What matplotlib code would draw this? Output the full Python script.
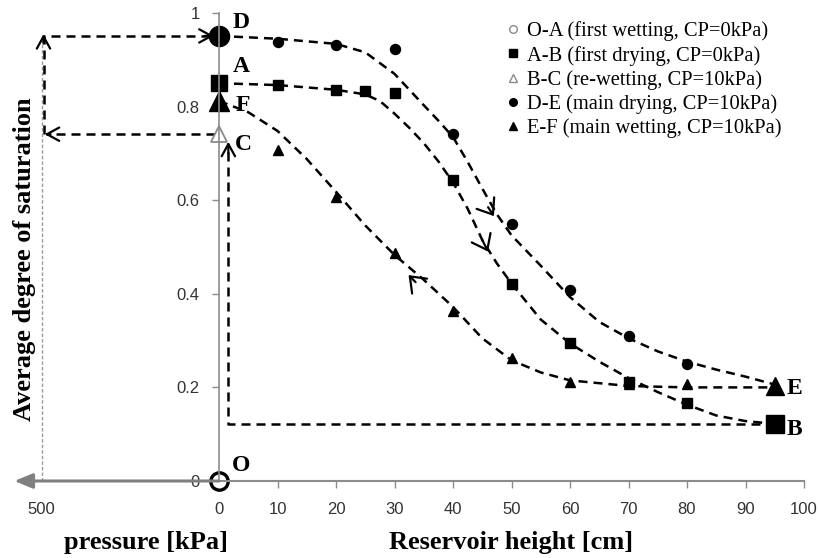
import matplotlib
matplotlib.use('Agg')
import matplotlib.pyplot as plt
from matplotlib.lines import Line2D

# measured points: reservoir height [cm] vs average degree of saturation
oa_x = [0]
oa_y = [0.0]
ab_x = [0, 10, 20, 25, 30, 40, 50, 60, 70, 80, 95]
ab_y = [0.85, 0.847, 0.836, 0.833, 0.829, 0.643, 0.421, 0.295, 0.211, 0.167, 0.122]
bc_x = [0]
bc_y = [0.741]
de_x = [0, 10, 20, 30, 40, 50, 60, 70, 80]
de_y = [0.951, 0.938, 0.932, 0.923, 0.741, 0.55, 0.409, 0.309, 0.251]
ef_x = [0, 10, 20, 30, 40, 50, 60, 70, 80, 95]
ef_y = [0.812, 0.707, 0.607, 0.487, 0.363, 0.262, 0.212, 0.208, 0.207, 0.203]

# dashed trend curves
ab_cx = [0, 10, 20, 25, 27.5, 30, 32.5, 35, 37.5, 40, 42.5, 45, 47.5, 50, 55, 60, 65, 70, 75, 80, 85, 90, 95]
ab_cy = [0.85, 0.846, 0.836, 0.826, 0.812, 0.785, 0.755, 0.722, 0.683, 0.638, 0.582, 0.515, 0.465, 0.422, 0.345, 0.294, 0.255, 0.22, 0.19, 0.163, 0.14, 0.128, 0.122]
de_cx = [0, 10, 20, 25, 30, 35, 37.5, 40, 42.5, 45, 47.5, 50, 55, 60, 65, 70, 75, 80, 85, 90, 95]
de_cy = [0.951, 0.945, 0.934, 0.916, 0.87, 0.803, 0.77, 0.735, 0.682, 0.625, 0.57, 0.525, 0.46, 0.393, 0.34, 0.305, 0.277, 0.255, 0.238, 0.223, 0.206]
ef_cx = [0, 5, 10, 15, 20, 25, 30, 35, 40, 45, 50, 55, 60, 70, 80, 95]
ef_cy = [0.812, 0.788, 0.748, 0.688, 0.618, 0.546, 0.483, 0.43, 0.372, 0.305, 0.258, 0.232, 0.215, 0.203, 0.2, 0.2]

legend_labels = ['O-A (first wetting, CP=0kPa)', 'A-B (first drying, CP=0kPa)',
                 'B-C (re-wetting, CP=10kPa)', 'D-E (main drying, CP=10kPa)',
                 'E-F (main wetting, CP=10kPa)']

pressure_kpa = 500
cm_per_kpa = 30.3 / 500.0
px = -pressure_kpa * cm_per_kpa

serif = 'Liberation Serif'
grey = '#8c8c8c'
dash = (3.6, 2.4)

fig = plt.figure(figsize=(8.19, 5.58), dpi=100)
ax = fig.add_axes([8.4 / 819, 77 / 558, (804 - 8.4) / 819, 468 / 558])
ax.set_xlim(-36, 100)
ax.set_ylim(0, 1.0)

for s in ['top', 'right']:
    ax.spines[s].set_visible(False)
ax.spines['left'].set_position(('data', 0))
ax.spines['left'].set_color(grey)
ax.spines['left'].set_linewidth(1.2)
ax.spines['bottom'].set_bounds(0, 100)
ax.spines['bottom'].set_color(grey)
ax.spines['bottom'].set_linewidth(1.5)

ax.set_xticks([px] + list(range(0, 101, 10)))
ax.set_xticklabels([str(pressure_kpa)] + [str(v) for v in range(0, 101, 10)])
ax.set_yticks([0, 0.2, 0.4, 0.6, 0.8, 1.0])
ax.set_yticklabels(['0', '0.2', '0.4', '0.6', '0.8', '1'])
ax.tick_params(axis='both', direction='out', length=5, width=1, color=grey,
               labelsize=12, labelcolor='#333333')
ax.tick_params(axis='x', pad=10)
ax.tick_params(axis='y', pad=9)
for lab in ax.get_xticklabels() + ax.get_yticklabels():
    lab.set_family('Liberation Sans')
xt = ax.xaxis.get_major_ticks()
xt[0].tick1line.set_visible(False)
xt[1].tick1line.set_visible(False)
ax.yaxis.get_major_ticks()[0].tick1line.set_visible(False)

# pressure axis to the left
ax.annotate('', xy=(-35, 0), xytext=(0, 0), annotation_clip=False,
            arrowprops=dict(arrowstyle='-|>,head_length=1.1,head_width=0.45',
                            color='#808080', lw=2.2, shrinkA=0, shrinkB=0))
ax.plot([px, px], [0, 0.95], color='#9a9a9a', lw=1.0, dashes=(2.5, 1.5))


def head(tip, tail, size=18, width=0.42):
    ax.annotate('', xy=tip, xytext=tail, annotation_clip=False,
                arrowprops=dict(arrowstyle='->,head_length=0.55,head_width=%g' % width,
                                color='black', lw=1.6, mutation_scale=size,
                                shrinkA=0, shrinkB=0))


# path B -> C
ax.plot([95, 1.6, 1.6], [0.122, 0.122, 0.71], color='black', lw=1.8, dashes=dash)
head((1.6, 0.725), (1.6, 0.70), 16, 0.3)
# C -> 500 kPa -> D
ax.plot([-0.6, -29.6], [0.741, 0.741], color='black', lw=1.8, dashes=dash)
head((-29.8, 0.741), (-28.8, 0.741), 16, 0.3)
ax.plot([-29.9, -29.9, -1.0], [0.741, 0.951, 0.951], color='black', lw=1.8, dashes=dash)
head((-30.0, 0.955), (-30.0, 0.935), 16, 0.3)
head((-0.9, 0.951), (-2.5, 0.951), 16, 0.3)

# trend curves
for cx, cy in [(de_cx, de_cy), (ab_cx, ab_cy), (ef_cx, ef_cy)]:
    ax.plot(cx, cy, color='black', lw=1.8, dashes=dash)
head((47.0, 0.566), (46.0, 0.585))
head((46.0, 0.49), (45.0, 0.515))
head((32.4, 0.44), (33.6, 0.425))

# data points
ax.plot(de_x[1:], de_y[1:], 'o', color='black', ms=7.2, ls='none')
ax.plot(ab_x[1:-1], ab_y[1:-1], 's', color='black', ms=7, ls='none')
ax.plot(ef_x[1:-1], ef_y[1:-1], '^', color='black', ms=7.2, ls='none')
ax.plot(de_x[0], de_y[0], 'o', color='black', ms=14.5, clip_on=False)
ax.plot(ab_x[0], ab_y[0], 's', color='black', ms=12)
ax.plot(ab_x[-1], ab_y[-1], 's', color='black', ms=12.5)
ax.plot(ef_x[0], ef_y[0], '^', color='black', ms=14)
ax.plot(ef_x[-1], ef_y[-1], '^', color='black', ms=12.5)
ax.plot(bc_x, bc_y, '^', mfc='white', mec='#8a8a8a', mew=1.3, ms=12)
ax.plot(oa_x, oa_y, 'o', mfc='none', mec='black', mew=2.4, ms=12.5, clip_on=False)

# point labels
for t, x, y in [('D', 2.4, 0.98), ('A', 2.4, 0.885), ('F', 2.9, 0.803),
                ('C', 2.7, 0.72), ('O', 2.2, 0.034), ('E', 97.1, 0.197), ('B', 97.1, 0.111)]:
    ax.text(x, y, t, family=serif, weight='bold', fontsize=17, ha='left', va='center',
            clip_on=False)

handles = [
    Line2D([], [], marker='o', ls='none', ms=5.5, mfc='white', mec='#8a8a8a', mew=1),
    Line2D([], [], marker='s', ls='none', ms=5.5, color='black'),
    Line2D([], [], marker='^', ls='none', ms=5.5, mfc='white', mec='#8a8a8a', mew=1),
    Line2D([], [], marker='o', ls='none', ms=5.5, color='black'),
    Line2D([], [], marker='^', ls='none', ms=5.5, color='black'),
]
fig.legend(handles, legend_labels, loc='upper left', bbox_to_anchor=(497 / 819, 1 - 11 / 558),
           frameon=False, handlelength=0.6, handletextpad=0.35, labelspacing=0.22,
           borderpad=0, prop={'family': serif, 'size': 14.8})

fig.text(25 / 819, 1 - 259 / 558, 'Average degree of saturation', rotation=90,
         family=serif, weight='bold', fontsize=19, ha='center', va='center')
fig.text(146 / 819, 1 - 542 / 558, 'pressure [kPa]', family=serif, weight='bold',
         fontsize=19, ha='center', va='center')
fig.text(511 / 819, 1 - 542 / 558, 'Reservoir height [cm]', family=serif, weight='bold',
         fontsize=19, ha='center', va='center')

fig.savefig('out.png', dpi=100)
